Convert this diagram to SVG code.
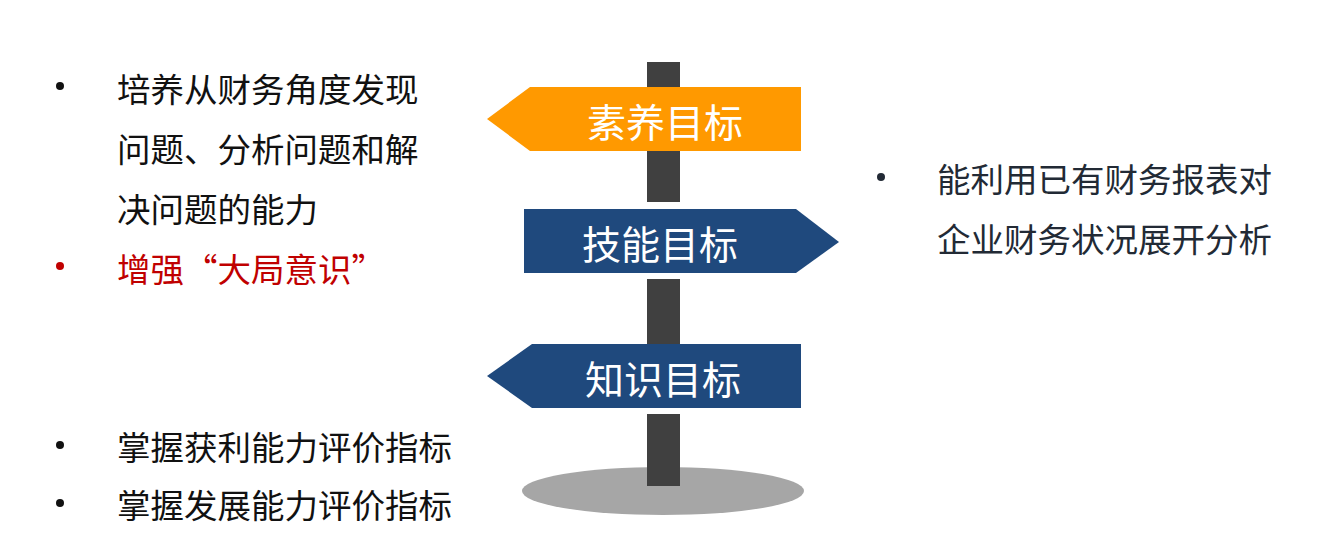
<svg xmlns="http://www.w3.org/2000/svg" width="1324" height="554" viewBox="0 0 1324 554">
<style>
.t{font-family:"Noto Sans CJK SC","Noto Sans",sans-serif;font-size:33.5px;dominant-baseline:central}
.k{fill:#111111}
.r{fill:#C00000}
.s{fill:#222A35}
.post{fill:#404040}
.sign{font-family:"Noto Sans CJK SC","Noto Sans",sans-serif;font-size:39px;fill:#FFFFFF;text-anchor:middle;dominant-baseline:central}
</style>
<rect width="1324" height="554" fill="#FFFFFF"/>
<g id="post">
<ellipse cx="663" cy="491" rx="141" ry="24" fill="#A6A6A6"/>
<rect class="post" x="647" y="62" width="33" height="26"/>
<rect class="post" x="647" y="150" width="33" height="52"/>
<rect class="post" x="647" y="279" width="33" height="65"/>
<rect class="post" x="647" y="414" width="33" height="72"/>
</g>
<g id="sign-suyang">
<polygon points="487,119 530,87 801,87 801,151 530,151" fill="#FF9900"/>
<text class="sign" x="665" y="120">素养目标</text>
</g>
<g id="sign-jineng">
<polygon points="524,209 796,209 839,242 796,273 524,273" fill="#1F497D"/>
<text class="sign" x="660" y="242">技能目标</text>
</g>
<g id="sign-zhishi">
<polygon points="487,376 532,344 801,344 801,408 532,408" fill="#1F497D"/>
<text class="sign" x="663" y="377">知识目标</text>
</g>
<g id="left-top">
<circle cx="60" cy="86" r="4" fill="#111111"/>
<text class="t k" x="117" y="87">培养从财务角度发现</text>
<text class="t k" x="117" y="147">问题、分析问题和解</text>
<text class="t k" x="117" y="207">决问题的能力</text>
<circle cx="60" cy="266" r="4" fill="#C00000"/>
<text class="t r" x="117" y="267">增强“大局意识”</text>
</g>
<g id="right">
<circle cx="881" cy="177" r="4" fill="#222A35"/>
<text class="t s" x="937" y="177">能利用已有财务报表对</text>
<text class="t s" x="937" y="237">企业财务状况展开分析</text>
</g>
<g id="left-bottom">
<circle cx="60" cy="445" r="4" fill="#111111"/>
<text class="t k" x="117" y="445">掌握获利能力评价指标</text>
<circle cx="60" cy="503" r="4" fill="#111111"/>
<text class="t k" x="117" y="503">掌握发展能力评价指标</text>
</g>
<g id="connectors"></g>
</svg>
